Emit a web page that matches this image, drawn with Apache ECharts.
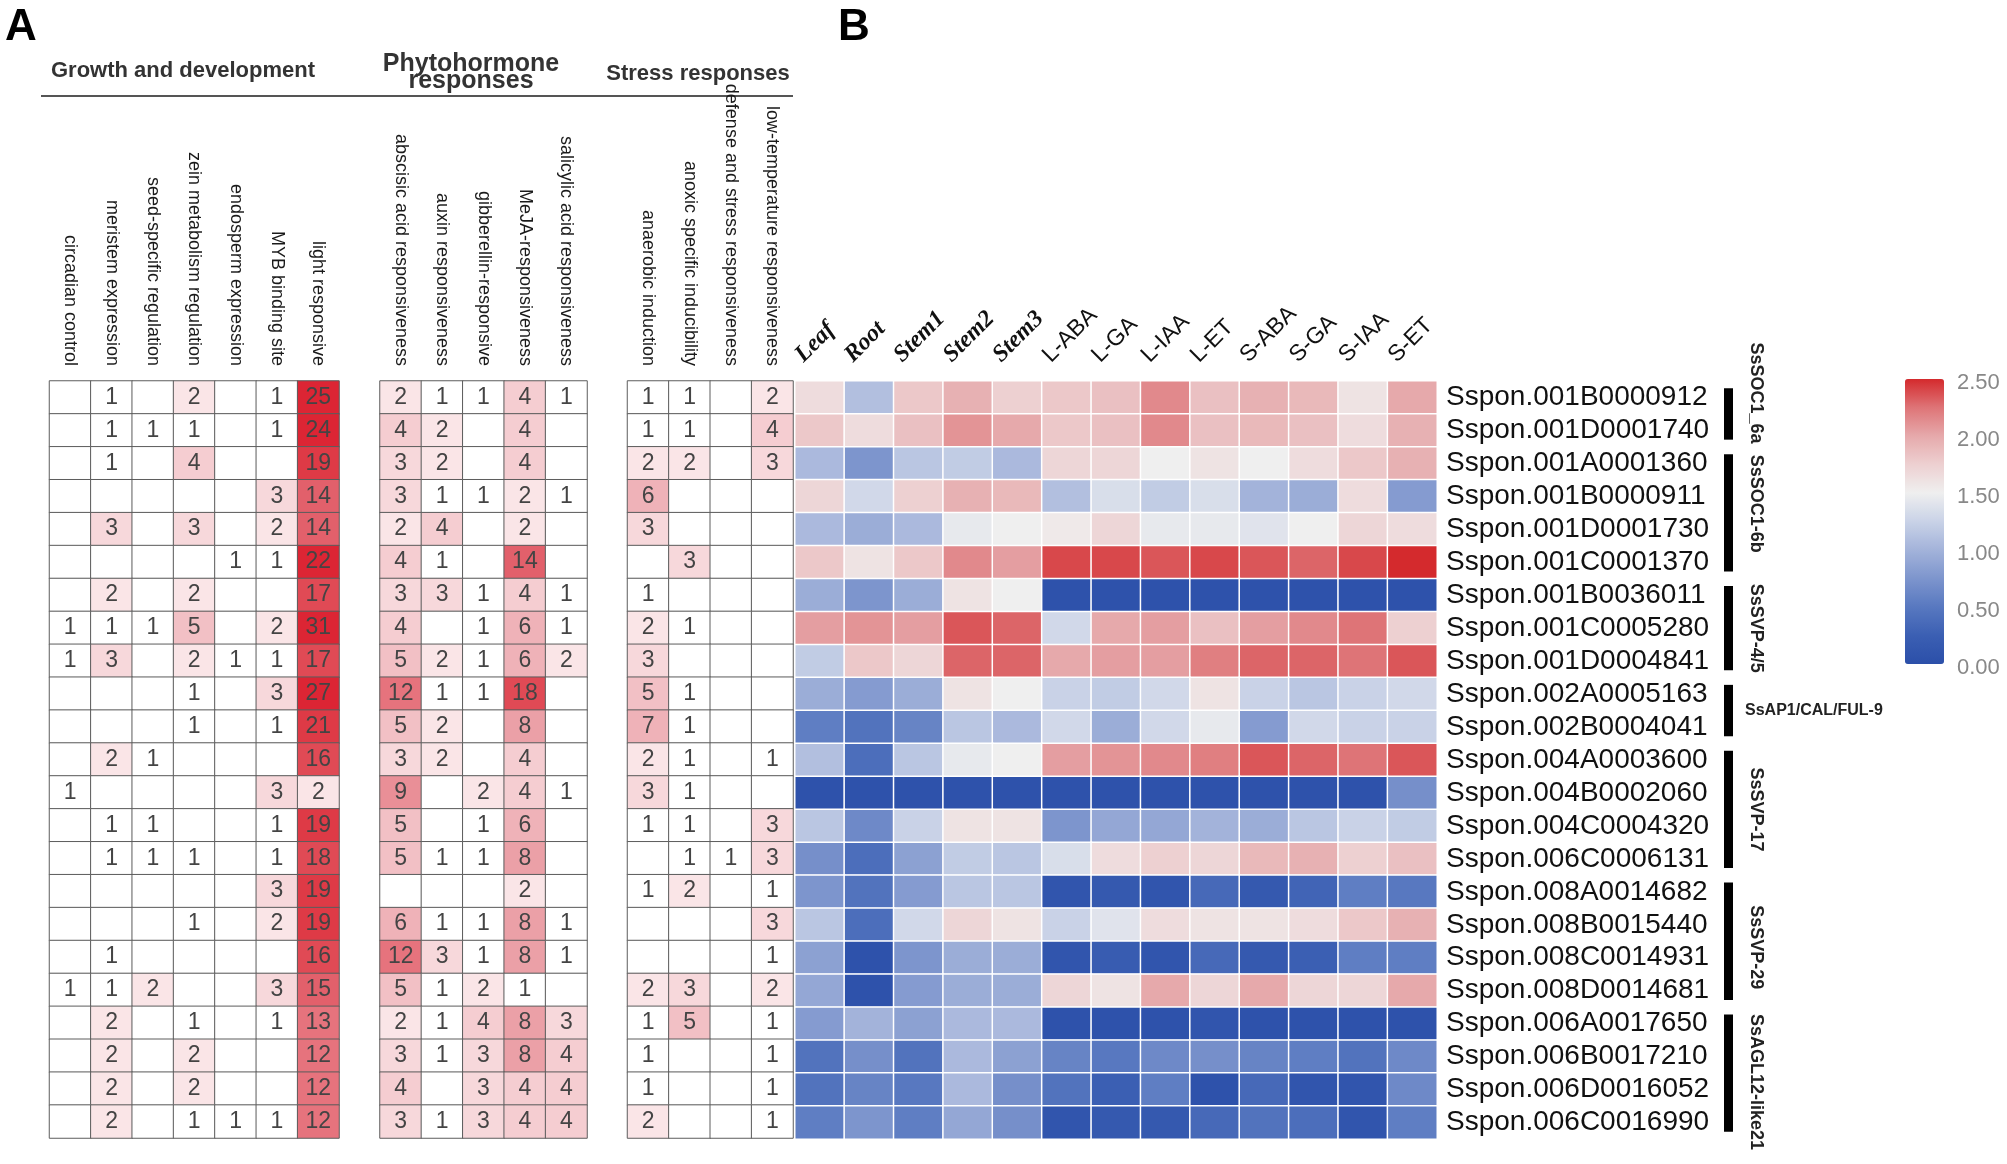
<!DOCTYPE html>
<html><head><meta charset="utf-8">
<script src="https://cdn.jsdelivr.net/npm/echarts@6.0.0/dist/echarts.min.js"></script>
<style>html,body{margin:0;padding:0;background:#fff}#c{width:2007px;height:1164px}</style>
</head><body><div id="c"></div>
<script>
// ---------- Panel A data ----------
const growthCols = ['circadian control','meristem expression','seed-specific regulation','zein metabolism regulation','endosperm expression','MYB binding site','light responsive'];
const hormoneCols = ['abscisic acid responsiveness','auxin responsiveness','gibberellin-responsive','MeJA-responsiveness','salicylic acid responsiveness'];
const stressCols = ['anaerobic induction','anoxic specific inducibility','defense and stress responsiveness','low-temperature responsiveness'];
const growthVals = [
[null,1,null,2,null,1,25],[null,1,1,1,null,1,24],[null,1,null,4,null,null,19],[null,null,null,null,null,3,14],
[null,3,null,3,null,2,14],[null,null,null,null,1,1,22],[null,2,null,2,null,null,17],[1,1,1,5,null,2,31],
[1,3,null,2,1,1,17],[null,null,null,1,null,3,27],[null,null,null,1,null,1,21],[null,2,1,null,null,null,16],
[1,null,null,null,null,3,2],[null,1,1,null,null,1,19],[null,1,1,1,null,1,18],[null,null,null,null,null,3,19],
[null,null,null,1,null,2,19],[null,1,null,null,null,null,16],[1,1,2,null,null,3,15],[null,2,null,1,null,1,13],
[null,2,null,2,null,null,12],[null,2,null,2,null,null,12],[null,2,null,1,1,1,12]];
const hormoneVals = [
[2,1,1,4,1],[4,2,null,4,null],[3,2,null,4,null],[3,1,1,2,1],[2,4,null,2,null],[4,1,null,14,null],
[3,3,1,4,1],[4,null,1,6,1],[5,2,1,6,2],[12,1,1,18,null],[5,2,null,8,null],[3,2,null,4,null],
[9,null,2,4,1],[5,null,1,6,null],[5,1,1,8,null],[null,null,null,2,null],[6,1,1,8,1],[12,3,1,8,1],
[5,1,2,1,null],[2,1,4,8,3],[3,1,3,8,4],[4,null,3,4,4],[3,1,3,4,4]];
const stressVals = [
[1,1,null,2],[1,1,null,4],[2,2,null,3],[6,null,null,null],[3,null,null,null],[null,3,null,null],
[1,null,null,null],[2,1,null,null],[3,null,null,null],[5,1,null,null],[7,1,null,null],[2,1,null,1],
[3,1,null,null],[1,1,null,3],[null,1,1,3],[1,2,null,1],[null,null,null,3],[null,null,null,1],
[2,3,null,2],[1,5,null,1],[1,null,null,1],[1,null,null,1],[2,null,null,1]];

// ---------- Panel B data ----------
const genes = ['Sspon.001B0000912','Sspon.001D0001740','Sspon.001A0001360','Sspon.001B0000911','Sspon.001D0001730',
'Sspon.001C0001370','Sspon.001B0036011','Sspon.001C0005280','Sspon.001D0004841','Sspon.002A0005163','Sspon.002B0004041',
'Sspon.004A0003600','Sspon.004B0002060','Sspon.004C0004320','Sspon.006C0006131','Sspon.008A0014682','Sspon.008B0015440',
'Sspon.008C0014931','Sspon.008D0014681','Sspon.006A0017650','Sspon.006B0017210','Sspon.006D0016052','Sspon.006C0016990'];
const conditions = ['Leaf','Root','Stem1','Stem2','Stem3','L-ABA','L-GA','L-IAA','L-ET','S-ABA','S-GA','S-IAA','S-ET'];
const expr = [
[1.65,1.10,1.80,1.95,1.75,1.80,1.85,2.15,1.85,1.95,1.90,1.60,2.00],
[1.80,1.65,1.85,2.10,2.00,1.80,1.85,2.15,1.85,1.90,1.85,1.65,1.95],
[1.05,0.75,1.15,1.20,1.05,1.70,1.70,1.50,1.60,1.50,1.65,1.80,1.95],
[1.70,1.30,1.75,1.95,1.90,1.10,1.35,1.20,1.35,1.00,0.95,1.65,0.80],
[1.05,0.95,1.05,1.45,1.50,1.55,1.70,1.45,1.45,1.40,1.50,1.70,1.65],
[1.80,1.60,1.80,2.15,2.05,2.40,2.40,2.35,2.40,2.35,2.30,2.40,2.50],
[0.95,0.75,0.95,1.60,1.50,0.05,0.05,0.05,0.05,0.05,0.05,0.05,0.05],
[2.05,2.10,2.05,2.35,2.30,1.30,2.00,2.05,1.85,2.05,2.15,2.25,1.75],
[1.20,1.80,1.70,2.30,2.30,2.00,2.05,2.05,2.20,2.30,2.30,2.25,2.35],
[0.95,0.80,0.95,1.60,1.50,1.25,1.20,1.30,1.60,1.25,1.15,1.25,1.30],
[0.55,0.45,0.60,1.15,1.05,1.30,0.95,1.30,1.45,0.80,1.30,1.25,1.25],
[1.10,0.40,1.15,1.45,1.50,2.05,2.10,2.15,2.20,2.35,2.30,2.25,2.35],
[0.05,0.05,0.05,0.05,0.05,0.05,0.05,0.05,0.05,0.05,0.05,0.05,0.70],
[1.15,0.65,1.25,1.60,1.60,0.75,0.90,0.90,1.00,0.95,1.15,1.25,1.20],
[0.70,0.40,0.85,1.20,1.15,1.35,1.65,1.75,1.70,1.90,1.95,1.75,1.85],
[0.75,0.45,0.80,1.15,1.15,0.10,0.15,0.10,0.35,0.15,0.30,0.55,0.50],
[1.15,0.40,1.30,1.70,1.60,1.25,1.40,1.65,1.60,1.60,1.65,1.80,1.95],
[0.85,0.05,0.75,0.95,0.95,0.10,0.20,0.10,0.35,0.15,0.25,0.55,0.55],
[0.90,0.05,0.80,0.95,0.95,1.70,1.60,2.00,1.70,2.00,1.70,1.70,2.00],
[0.80,1.00,0.85,1.05,1.05,0.05,0.05,0.05,0.10,0.05,0.05,0.05,0.05],
[0.45,0.70,0.45,1.05,0.85,0.60,0.50,0.65,0.70,0.60,0.55,0.45,0.65],
[0.45,0.60,0.50,1.05,0.70,0.45,0.25,0.55,0.05,0.35,0.10,0.10,0.65],
[0.55,0.75,0.55,0.90,0.70,0.10,0.15,0.15,0.35,0.45,0.40,0.10,0.55]];
const geneGroups = [['SsSOC1_6a',0,1],['SsSOC1-6b',2,5],['SsSVP-4/5',6,8],['SsAP1/CAL/FUL-9',9,10],
['SsSVP-17',11,14],['SsSVP-29',15,18],['SsAGL12-like21',19,22]];
const horizontalGroupLabels = ['SsAP1/CAL/FUL-9'];
const groupLabelShift = {'SsSOC1_6a':-21,'SsSOC1-6b':-9,'SsSVP-29':6,'SsAGL12-like21':9};
const tissueConditions = ['Leaf','Root','Stem1','Stem2','Stem3'];
const legendTicks = [2.5,2.0,1.5,1.0,0.5,0.0];
const legendMin = 0, legendMax = 2.5;

// ---------- build ----------
const SANS = '"Liberation Sans", Arial, sans-serif';
const SERIF = '"Liberation Serif", "Times New Roman", serif';
function cells(vals){
  const out=[];
  vals.forEach((row,r)=>row.forEach((v,c)=>{ out.push([c,r,v==null?1:Math.max(1,v),v]); }));
  return out;
}
const rowsIdx = genes.map((g,i)=>String(i));
const aTop=381, aH=757;
const aGrids=[{left:49.5,width:289.5},{left:380,width:207},{left:627.5,width:165.5}];
const aCols=[growthCols,hormoneCols,stressCols];
const aVals=[growthVals,hormoneVals,stressVals];

const grids=[], xAxes=[], yAxes=[], series=[];
aGrids.forEach((g,i)=>{
  grids.push({left:g.left,top:aTop,width:g.width,height:aH,containLabel:false,outerBoundsMode:'none'});
  xAxes.push({type:'category',gridIndex:i,position:'top',data:aCols[i],
    axisLine:{show:false},axisTick:{show:false},splitLine:{show:false},
    axisLabel:{interval:0,rotate:90,margin:15,fontSize:18,color:'#1a1a1a',fontFamily:SANS}});
  yAxes.push({type:'category',gridIndex:i,inverse:true,data:rowsIdx,show:false});
  series.push({type:'heatmap',xAxisIndex:i,yAxisIndex:i,data:cells(aVals[i]),
    itemStyle:{borderColor:'#5c5c5c',borderWidth:1},
    label:{show:true,fontSize:23,color:'#444',fontFamily:SANS,formatter:p=>p.data[3]==null?'':String(p.data[3])},
    emphasis:{disabled:true}});
});
// panel B
grids.push({left:795,top:381,width:642,height:758,containLabel:false,outerBoundsMode:'none'});
xAxes.push({type:'category',gridIndex:3,position:'top',data:conditions,
  axisLine:{show:false},axisTick:{show:false},axisLabel:{show:false}});
yAxes.push({type:'category',gridIndex:3,position:'right',inverse:true,data:genes,
  axisLine:{show:false},axisTick:{show:false},
  axisLabel:{interval:0,margin:9,fontSize:28,color:'#111',fontFamily:SANS}});
const bData=[];
expr.forEach((row,r)=>row.forEach((v,c)=>bData.push([c,r,v])));
series.push({type:'heatmap',xAxisIndex:3,yAxisIndex:3,data:bData,
  itemStyle:{borderColor:'#ffffff',borderWidth:1.5},emphasis:{disabled:true}});
// group bars + labels
series.push({type:'custom',xAxisIndex:3,yAxisIndex:3,silent:true,clip:false,z:10,
  data:geneGroups.map(g=>({name:g[0],value:[0,g[1],g[2]]})),
  encode:{x:0,y:[1,2]},
  renderItem:(params,api)=>{
    const band=api.size([0,1])[1];
    const y0=api.coord([0,api.value(1)])[1]-band/2;
    const y1=api.coord([0,api.value(2)])[1]+band/2;
    const cs=params.coordSys; const right=cs.x+cs.width;
    const name=geneGroups[params.dataIndex][0];
    const mid=(y0+y1)/2+(groupLabelShift[name]||0);
    const bar={type:'rect',shape:{x:right+287,y:y0+0.22*band,width:9,height:(y1-y0)-0.44*band},style:{fill:'#000'}};
    const txt=horizontalGroupLabels.includes(name)
      ? {type:'text',x:right+308,y:(y0+y1)/2,style:{text:name,fontSize:16,fontWeight:'bold',fontFamily:SANS,fill:'#222',align:'left',verticalAlign:'middle'}}
      : {type:'text',x:right+319,y:mid,rotation:-Math.PI/2,style:{text:name,fontSize:18,fontWeight:'bold',fontFamily:SANS,fill:'#222',align:'center',verticalAlign:'middle'}};
    return {type:'group',children:[bar,txt]};
  }});
// column labels of B (rotated 45deg, placed at each category position)
series.push({type:'custom',xAxisIndex:3,yAxisIndex:3,silent:true,clip:false,z:10,
  data:conditions.map((c,i)=>({name:c,value:[i,0]})),
  encode:{x:0,y:1},
  renderItem:(params,api)=>{
    const cx=api.coord([api.value(0),0])[0];
    const cs=params.coordSys;
    const name=conditions[params.dataIndex];
    const tissue=tissueConditions.includes(name);
    return {type:'text',x:cx-12,y:cs.y-14,rotation:Math.PI/4,
      style:{text:name,align:'left',verticalAlign:'bottom',fill:'#111',
        fontFamily:tissue?SERIF:SANS,fontStyle:tissue?'italic':'normal',fontWeight:tissue?'bold':'normal',
        fontSize:tissue?24:23}};
  }});

const legLeft=1905, legTop=379, legW=39, legH=285;
const graphic=[
  {type:'text',x:5,y:6,style:{text:'A',fontSize:44,fontWeight:'bold',fontFamily:SANS,fill:'#000'}},
  {type:'text',x:838,y:6,style:{text:'B',fontSize:44,fontWeight:'bold',fontFamily:SANS,fill:'#000'}},
  {type:'text',x:183,y:71,style:{text:'Growth and development',fontSize:22,fontWeight:'bold',fontFamily:SANS,fill:'#333',align:'center',verticalAlign:'middle'}},
  {type:'text',x:471,y:64,style:{text:'Phytohormone',fontSize:25,fontWeight:'bold',fontFamily:SANS,fill:'#333',align:'center',verticalAlign:'middle'}},
  {type:'text',x:471,y:81,style:{text:'responses',fontSize:25,fontWeight:'bold',fontFamily:SANS,fill:'#333',align:'center',verticalAlign:'middle'}},
  {type:'text',x:698,y:74,style:{text:'Stress responses',fontSize:22,fontWeight:'bold',fontFamily:SANS,fill:'#333',align:'center',verticalAlign:'middle'}},
  {type:'line',shape:{x1:41,y1:96,x2:793,y2:96},style:{stroke:'#555',lineWidth:2}}
];
legendTicks.forEach(t=>{
  graphic.push({type:'text',x:legLeft+legW+13,y:legTop+(1-(t-legendMin)/(legendMax-legendMin))*legH+4,
    style:{text:t.toFixed(2),fontSize:22,fontFamily:SANS,fill:'#888',align:'left',verticalAlign:'middle'}});
});

const option={
  animation:false,
  backgroundColor:'#fff',
  grid:grids, xAxis:xAxes, yAxis:yAxes, series:series, graphic:graphic,
  visualMap:[
    {type:'piecewise',show:false,seriesIndex:[0,1,2],dimension:2,
     pieces:[
      {max:1.5,color:'#ffffff'},{min:1.5,max:2.5,color:'#fae5e7'},{min:2.5,max:3.5,color:'#f7d8db'},
      {min:3.5,max:4.5,color:'#f5cdd1'},{min:4.5,max:5.5,color:'#f2c0c5'},{min:5.5,max:7,color:'#efb2b8'},
      {min:7,max:8.5,color:'#eba0a7'},{min:8.5,max:10,color:'#e98f97'},{min:10,max:13,color:'#e6737d'},
      {min:13,max:15,color:'#e2606b'},{min:15,max:18,color:'#e04a55'},{min:18,max:21,color:'#de3a46'},
      {min:21,color:'#dc2534'}]},
    {type:'continuous',seriesIndex:3,dimension:2,min:legendMin,max:legendMax,calculable:false,
     left:legLeft,top:legTop,itemWidth:legW,itemHeight:legH,padding:0,text:['',''],showLabel:false,
     inRange:{color:['#2b4fa9','#3b5fb3','#5878c0','#7d95cd','#a3b3da','#c9d2e7','#efefef','#edd0d1','#e6a9ab','#de7477','#d42a2d']}}
  ]
};
const chart=echarts.init(document.getElementById('c'));
chart.setOption(option);
</script></body></html>
